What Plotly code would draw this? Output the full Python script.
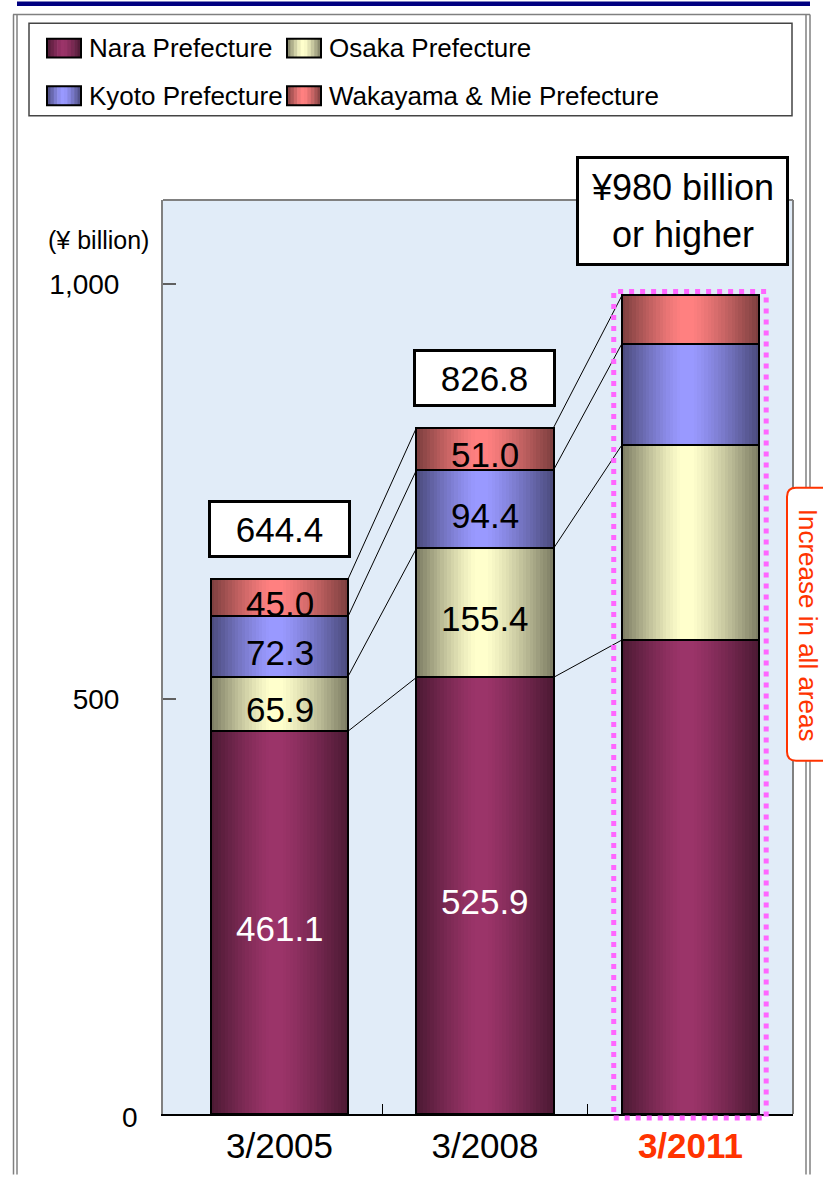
import plotly.graph_objects as go

# ---------------- data ----------------
periods = ["3/2005", "3/2008", "3/2011"]
highlight_period = "3/2011"
series_names = ["Nara Prefecture", "Osaka Prefecture", "Kyoto Prefecture", "Wakayama & Mie Prefecture"]
nara = [461.1, 525.9, 571.0]
osaka = [65.9, 155.4, 235.0]
kyoto = [72.3, 94.4, 122.0]
waka = [45.0, 51.0, 58.0]
total_labels = ["644.4", "826.8", "¥980 billion<br>or higher"]
show_segment_values = [True, True, False]
side_note = "Increase in all areas"
y_unit = "(¥ billion)"
y_ticks = [0, 500, 1000]
y_ticktext = ["", "500", "1,000"]
zero_label = "0"

# ---------------- style ----------------
FONT = "Liberation Sans, Arial, sans-serif"
W, H = 823, 1177
L, R, T, B = 163, 30, 200, 56
PW, PH = W - L - R, H - T - B
YMAX = 1101
XR = [-0.567, 2.499]
BAR_W = 0.667
N_SLICES = 40
centers = [(155, 52, 105), (255, 255, 204), (153, 153, 255), (255, 128, 128)]
label_colors = ["white", "black", "black", "black"]
series = [nara, osaka, kyoto, waka]


def px2p(px, py):
    return (px - L) / PW, (H - B - py) / PH


def shade(c, t, peak=0.47):
    d = abs(t - peak) / (peak if t < peak else 1 - peak)
    d = max(0.0, (d - 0.08) / 0.92)
    f = 1 - 0.52 * d ** 1.2
    return "rgb(%d,%d,%d)" % tuple(int(round(v * f)) for v in c)


xs = list(range(len(periods)))
bases = []
cum = [0.0] * len(periods)
for s in series:
    bases.append(cum[:])
    cum = [cum[i] + s[i] for i in range(len(periods))]
tops = []
acc = [0.0] * len(periods)
for s in series:
    acc = [acc[i] + s[i] for i in range(len(periods))]
    tops.append(acc[:])

fig = go.Figure()
step = BAR_W / N_SLICES
for k in range(N_SLICES):
    off = -BAR_W / 2 + k * step
    wk = min(step * 1.4, BAR_W / 2 - off)
    t = (k + 0.5) / N_SLICES
    bx, by, bb, bc = [], [], [], []
    for si, s in enumerate(series):
        for i in xs:
            bx.append(i)
            by.append(s[i])
            bb.append(bases[si][i])
            bc.append(shade(centers[si], t))
    fig.add_trace(go.Bar(x=bx, y=by, base=bb, width=wk, offset=off,
                         marker=dict(color=bc, line=dict(width=0)),
                         showlegend=False, hoverinfo="skip"))
for si, s in enumerate(series):
    fig.add_trace(go.Bar(x=xs, y=s, base=bases[si], width=BAR_W, offset=-BAR_W / 2,
                         marker=dict(color="rgba(0,0,0,0)", line=dict(color="black", width=2)),
                         showlegend=False, hoverinfo="skip", name=series_names[si]))

shapes = []
annotations = []

# connector lines
for g in range(len(periods) - 1):
    for j in range(len(series)):
        shapes.append(dict(type="line", xref="x", yref="y",
                           x0=g + BAR_W / 2, y0=tops[j][g],
                           x1=g + 1 - BAR_W / 2, y1=tops[j][g + 1],
                           line=dict(color="black", width=1)))

# segment labels
for si, s in enumerate(series):
    for i in xs:
        if show_segment_values[i]:
            annotations.append(dict(x=i, y=bases[si][i] + s[i] / 2, xref="x", yref="y",
                                    text="%.1f" % s[i], showarrow=False, yshift=-6,
                                    font=dict(family=FONT, size=35, color=label_colors[si])))

# total boxes
for i in xs:
    if i < len(periods) - 1:
        annotations.append(dict(x=i, y=tops[-1][i], xref="x", yref="y", text=total_labels[i],
                                showarrow=False, yshift=50, width=133, height=48,
                                bgcolor="white", bordercolor="black", borderwidth=3, borderpad=2,
                                font=dict(family=FONT, size=35, color="black")))
    else:
        annotations.append(dict(x=i, y=tops[-1][i], xref="x", yref="y", text=total_labels[i],
                                showarrow=False, yshift=84, xshift=-8, width=203, height=100,
                                bgcolor="white", bordercolor="black", borderwidth=3, borderpad=2,
                                font=dict(family=FONT, size=36, color="black")))

# dotted highlight rectangle around last bar
hi = periods.index(highlight_period)
_, ybot = px2p(0, H - B + 4)
shapes.append(dict(type="rect", xref="x", yref="paper",
                   x0=hi - BAR_W / 2 - 0.04, x1=hi + BAR_W / 2 + 0.035,
                   y0=ybot, y1=tops[-1][hi] / YMAX + 4 / PH,
                   line=dict(color="#ff66ff", width=5, dash="5px,6px")))

# plot top / right border
shapes.append(dict(type="line", xref="paper", yref="paper", x0=0, x1=1, y0=1, y1=1,
                   line=dict(color="#808080", width=2)))
shapes.append(dict(type="line", xref="paper", yref="paper", x0=1, x1=1, y0=0, y1=1,
                   line=dict(color="#808080", width=2)))


def pline(xa, ya, xb, yb, color="#808080", width=1.5):
    a = px2p(xa, ya)
    b = px2p(xb, yb)
    shapes.append(dict(type="line", xref="paper", yref="paper", x0=a[0], y0=a[1], x1=b[0], y1=b[1],
                       line=dict(color=color, width=width)))


# outer frame
pline(13.5, 13, 13.5, H + 5)
pline(17, 13, 17, H + 5)
pline(806, 13, 806, H + 5)
pline(810, 13, 810, H + 5)
pline(13, 13, 810, 13)
a = px2p(17, 0)
b = px2p(810, 4.5)
shapes.append(dict(type="rect", xref="paper", yref="paper", x0=a[0], y0=a[1], x1=b[0], y1=b[1],
                   fillcolor="#000080", line=dict(width=0)))

# legend box
a = px2p(29, 22)
b = px2p(792, 115)
shapes.append(dict(type="rect", xref="paper", yref="paper", x0=a[0], y0=a[1], x1=b[0], y1=b[1],
                   line=dict(color="#444444", width=1.5), fillcolor="white"))
leg_pos = [(47, 47), (287, 47), (47, 95), (287, 95)]
for si, (lx, ly) in enumerate(leg_pos):
    sw, sh = 34, 19
    n = 10
    for k in range(n):
        t = (k + 0.5) / n
        a = px2p(lx + k * sw / n, ly - sh / 2)
        b = px2p(lx + (k + 1) * sw / n + 0.6, ly + sh / 2)
        shapes.append(dict(type="rect", xref="paper", yref="paper", x0=a[0], y0=a[1], x1=b[0], y1=b[1],
                           fillcolor=shade(centers[si], t), line=dict(width=0)))
    a = px2p(lx, ly - sh / 2)
    b = px2p(lx + sw, ly + sh / 2)
    shapes.append(dict(type="rect", xref="paper", yref="paper", x0=a[0], y0=a[1], x1=b[0], y1=b[1],
                       line=dict(color="black", width=2)))
    tp = px2p(lx + 40, ly)
    annotations.append(dict(x=tp[0], y=tp[1], xref="paper", yref="paper", xanchor="left",
                            yanchor="middle", text=series_names[si], showarrow=False,
                            font=dict(family=FONT, size=26, color="black")))

# side note rounded box
bx0, by0, bx1, by1, r = 787, 490, 840, 765, 9
p0 = px2p(bx0, by1)
p1 = px2p(bx1, by0)
rx, ry = r / PW, r / PH
xa, ya, xb, yb = p0[0], p0[1], p1[0], p1[1]
path = (f"M {xa+rx},{ya} L {xb-rx},{ya} Q {xb},{ya} {xb},{ya+ry} L {xb},{yb-ry} "
        f"Q {xb},{yb} {xb-rx},{yb} L {xa+rx},{yb} Q {xa},{yb} {xa},{yb-ry} "
        f"L {xa},{ya+ry} Q {xa},{ya} {xa+rx},{ya} Z")
shapes.append(dict(type="path", xref="paper", yref="paper", path=path, fillcolor="white",
                   line=dict(color="#ff3300", width=2)))
tp = px2p(808, 628)
annotations.append(dict(x=tp[0], y=tp[1], xref="paper", yref="paper", text=side_note,
                        textangle=90, showarrow=False, xanchor="center", yanchor="middle",
                        font=dict(family=FONT, size=26, color="#ff3300")))

# y unit label
tp = px2p(98, 240)
annotations.append(dict(x=tp[0], y=tp[1], xref="paper", yref="paper", text=y_unit,
                        showarrow=False, xanchor="center", yanchor="middle",
                        font=dict(family=FONT, size=25, color="black")))
# zero tick label
tp = px2p(130, 1125)
annotations.append(dict(x=tp[0], y=tp[1], xref="paper", yref="paper", text=zero_label,
                        showarrow=False, xanchor="center", yanchor="middle",
                        font=dict(family=FONT, size=28, color="black")))

ticktext = [("<b><span style='color:#ff3300'>%s</span></b>" % p) if p == highlight_period else p
            for p in periods]

fig.update_layout(
    width=W, height=H,
    margin=dict(l=L, r=R, t=T, b=B, pad=0),
    paper_bgcolor="white",
    plot_bgcolor="#e1ecf8",
    barmode="overlay",
    bargap=0,
    showlegend=False,
    font=dict(family=FONT, color="black"),
    shapes=shapes,
    annotations=annotations,
    xaxis=dict(range=XR, tickmode="array", tickvals=xs, ticktext=ticktext, ticks="",
               showgrid=False, zeroline=False, showline=True, linecolor="black", linewidth=2,
               tickfont=dict(family=FONT, size=35, color="black"),
               minor=dict(tickmode="array", tickvals=[0.5, 1.5], ticks="inside", ticklen=10,
                          tickcolor="black", tickwidth=1, showgrid=False)),
    yaxis=dict(range=[0, YMAX], tickmode="array", tickvals=y_ticks, ticktext=y_ticktext,
               ticks="inside", ticklen=13, tickcolor="#606060", tickwidth=1.5,
               showgrid=False, zeroline=False, showline=True, linecolor="#808080", linewidth=2,
               mirror=False, ticklabelstandoff=36,
               tickfont=dict(family=FONT, size=28, color="black")),
)

fig.write_html("out.html")
